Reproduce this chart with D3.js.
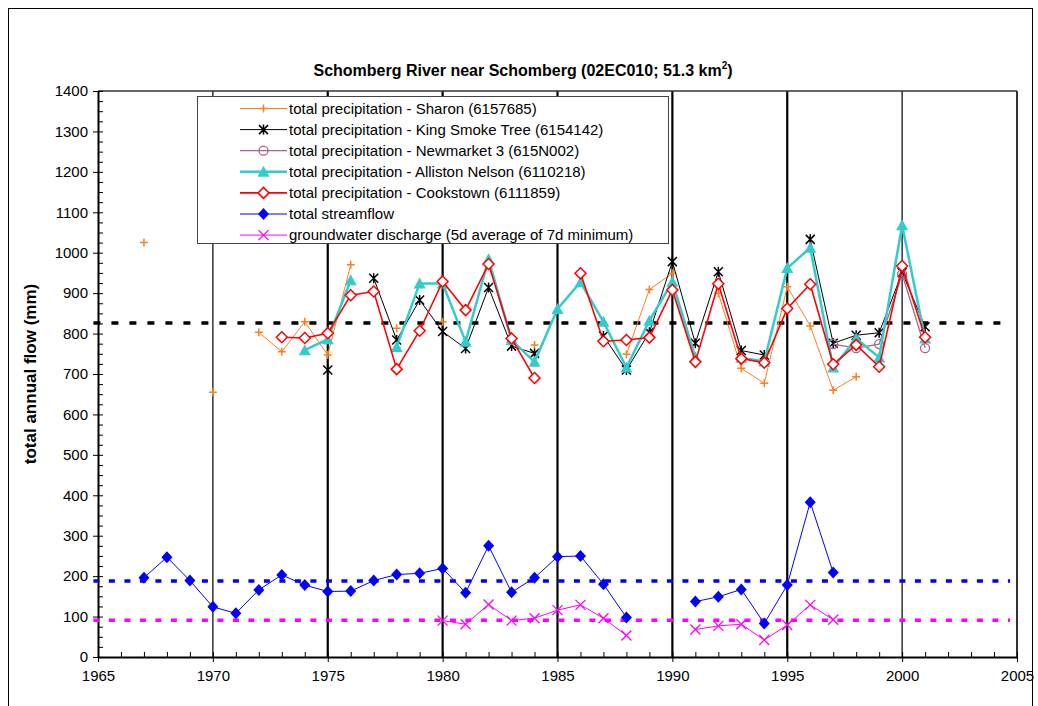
<!DOCTYPE html>
<html><head><meta charset="utf-8">
<script src="https://cdn.jsdelivr.net/npm/d3@7"></script>
<style>
body{margin:0;background:#fff;}
text{font-family:"Liberation Sans",Arial,sans-serif;}
</style></head>
<body>
<svg id="chart" width="1038" height="706"></svg>
<script>
const years = d3.range(1967, 2002);
const sharon = [1025,null,null,655,null,803,755,829,747,970,null,813,null,829,null,null,null,772,null,null,null,749,909,949,null,900,714,677,916,819,660,693,null,null,null];
const kingSmokeTree = [null,null,null,null,null,null,null,null,710,null,937,784,883,805,763,914,769,751,null,null,794,710,803,978,776,953,758,747,null,1033,776,796,802,951,817];
const newmarket = [null,null,null,null,null,null,null,null,null,null,null,null,null,null,null,null,null,null,null,null,null,null,null,null,null,null,null,null,null,null,774,764,774,947,764];
const alliston = [null,null,null,null,null,null,null,759,786,932,null,767,924,924,780,984,784,730,861,927,829,716,832,928,741,null,740,731,962,1012,716,788,741,1068,788];
const cookstown = [null,null,null,null,null,null,791,789,801,895,904,712,807,929,858,972,788,690,null,949,781,784,790,908,730,923,738,728,862,922,724,772,718,967,791];
const streamflow = [196,247,189,124,108,166,203,178,162,163,189,204,207,219,159,275,160,196,248,250,180,98,null,null,137,149,167,83,178,383,209,null,null,null,null];
const groundwater = [null,null,null,null,null,null,null,null,null,null,null,null,null,90,81,130,90,96,116,129,96,53,null,null,68,77,81,42,79,129,92,null,null,null,null];
const meanNames = ["mean precipitation","mean streamflow","mean groundwater discharge"];
const meanValues = [826, 188, 91];
const yTicks = d3.range(0, 1401, 100);
const xTicks = d3.range(1965, 2006, 5);
const seriesNames = [
  "total precipitation - Sharon (6157685)",
  "total precipitation - King Smoke Tree (6154142)",
  "total precipitation - Newmarket 3 (615N002)",
  "total precipitation - Alliston Nelson (6110218)",
  "total precipitation - Cookstown (6111859)",
  "total streamflow",
  "groundwater discharge (5d average of 7d minimum)"
];
const seriesValues = [sharon, kingSmokeTree, newmarket, alliston, cookstown, streamflow, groundwater];
const title = "Schomberg River near Schomberg (02EC010; 51.3 km";
const yTitle = "total annual flow (mm)";

const styles = [
  {color:"#FF7F1E", width:1, marker:"plus"},
  {color:"#000000", width:1, marker:"star"},
  {color:"#A8618C", width:1.3, marker:"circle"},
  {color:"#33CCCC", width:2.5, marker:"triangle"},
  {color:"#FF0000", width:1.6, marker:"odiamond"},
  {color:"#0000FF", width:1, marker:"fdiamond"},
  {color:"#FF00FF", width:1, marker:"x"}
];
const meanStyles = [
  {color:"#000000", dash:"7,11"},
  {color:"#0000FF", dash:"6,9.5"},
  {color:"#FF00FF", dash:"6,9.5"}
];

const svg = d3.select("#chart");
const L = 98, R = 1017, T = 91, B = 657;
const x = d3.scaleLinear().domain([1965, 2005]).range([L, R]);
const y = d3.scaleLinear().domain([0, 1400]).range([B, T]);

svg.append("rect").attr("x",8.5).attr("y",8.5).attr("width",1024).attr("height",740)
  .attr("fill","none").attr("stroke","#000").attr("stroke-width",1);

const tt = svg.append("text").attr("x",523).attr("y",76).attr("text-anchor","middle")
  .attr("font-size",16).attr("font-weight","bold").text(title);
tt.append("tspan").attr("font-size",10).attr("dy",-7).text("2");
tt.append("tspan").attr("dy",7).text(")");

svg.append("g").selectAll("line").data(xTicks.filter(v => v > 1965 && v < 2005)).join("line")
  .attr("x1", d => x(d)).attr("x2", d => x(d)).attr("y1", T).attr("y2", B)
  .attr("stroke","#000").attr("stroke-width", d => (d === 1970 || d === 2000) ? 1.2 : 2.2);

svg.append("line").attr("x1",L).attr("x2",R).attr("y1",T).attr("y2",T).attr("stroke","#333").attr("stroke-width",1.5);
svg.append("line").attr("x1",R).attr("x2",R).attr("y1",T).attr("y2",B).attr("stroke","#333").attr("stroke-width",2);

const yAxis = svg.append("g").attr("transform",`translate(${L},0)`)
  .call(d3.axisLeft(y).tickValues(yTicks).tickSize(5).tickSizeOuter(0).tickPadding(5).tickFormat(d3.format("d")));
yAxis.selectAll("text").attr("font-size",15).attr("font-family","Liberation Sans, Arial").attr("fill","#000");
svg.append("g").attr("transform",`translate(${L},0)`)
  .call(d3.axisRight(y).tickValues(d3.range(0,1401,25)).tickSize(5).tickSizeOuter(0).tickFormat(""))
  .select(".domain").remove();
const xAxis = svg.append("g").attr("transform",`translate(0,${B})`)
  .call(d3.axisBottom(x).tickValues(xTicks).tickSize(5).tickSizeOuter(0).tickPadding(8).tickFormat(d3.format("d")));
xAxis.selectAll("text").attr("font-size",15).attr("font-family","Liberation Sans, Arial").attr("fill","#000");
svg.append("g").attr("transform",`translate(0,${B})`)
  .call(d3.axisTop(x).tickValues(d3.range(1965,2006,1)).tickSize(5).tickSizeOuter(0).tickFormat(""))
  .select(".domain").remove();
svg.selectAll(".domain").attr("stroke","#000").attr("stroke-width",2);

svg.append("text").attr("transform",`translate(36,${(T+B)/2}) rotate(-90)`)
  .attr("text-anchor","middle").attr("font-size",17).attr("font-weight","bold").text(yTitle);

meanValues.forEach((v,i) => {
  svg.append("line").attr("x1", x(1964.8)).attr("x2", x(2004.7)).attr("y1", y(v)).attr("y2", y(v))
    .attr("stroke", meanStyles[i].color).attr("stroke-width",3.5).attr("stroke-dasharray", meanStyles[i].dash)
    .attr("class","mean").attr("data-name", meanNames[i]);
});

function drawMarker(g, type, color){
  switch(type){
    case "plus": g.append("path").attr("d","M-4,0H4M0,-4V4").attr("stroke",color).attr("stroke-width",1.5).attr("fill","none"); break;
    case "star": g.append("path").attr("d","M-4.5,-4.5L4.5,4.5M-4.5,4.5L4.5,-4.5M0,-5V5").attr("stroke",color).attr("stroke-width",1.5).attr("fill","none"); break;
    case "circle": g.append("circle").attr("r",4.5).attr("stroke",color).attr("stroke-width",1.3).attr("fill","none"); break;
    case "triangle": g.append("path").attr("d","M0,-6L6,5H-6Z").attr("fill",color); break;
    case "odiamond": g.append("path").attr("d","M0,-5.5L5.5,0L0,5.5L-5.5,0Z").attr("stroke",color).attr("stroke-width",1.5).attr("fill","#fff"); break;
    case "fdiamond": g.append("path").attr("d","M0,-6L5.5,0L0,6L-5.5,0Z").attr("fill",color); break;
    case "x": g.append("path").attr("d","M-5,-5L5,5M-5,5L5,-5").attr("stroke",color).attr("stroke-width",1.3).attr("fill","none"); break;
  }
}

seriesValues.forEach((vals,i) => {
  const st = styles[i];
  const pts = years.map((yr,j) => ({yr, v: vals[j]}));
  const g = svg.append("g");
  g.append("path").datum(pts)
    .attr("d", d3.line().defined(d => d.v != null).x(d => x(d.yr)).y(d => y(d.v)))
    .attr("fill","none").attr("stroke", st.color).attr("stroke-width", st.width);
  pts.filter(d => d.v != null).forEach(d => {
    const m = g.append("g").attr("transform",`translate(${x(d.yr)},${y(d.v)})`);
    drawMarker(m, st.marker, st.color);
  });
});

const lg = svg.append("g");
lg.append("rect").attr("x",197.5).attr("y",96.5).attr("width",471).attr("height",147)
  .attr("fill","#fff").attr("stroke","#444").attr("stroke-width",1);
seriesNames.forEach((name,i) => {
  const yy = 108.5 + i*21.1;
  const st = styles[i];
  lg.append("line").attr("x1",240).attr("x2",287).attr("y1",yy).attr("y2",yy)
    .attr("stroke",st.color).attr("stroke-width",st.width);
  const m = lg.append("g").attr("transform",`translate(263.5,${yy})`);
  drawMarker(m, st.marker, st.color);
  lg.append("text").attr("x",289).attr("y",yy).attr("dy","0.35em").attr("font-size",15).text(name);
});
</script>
</body></html>
